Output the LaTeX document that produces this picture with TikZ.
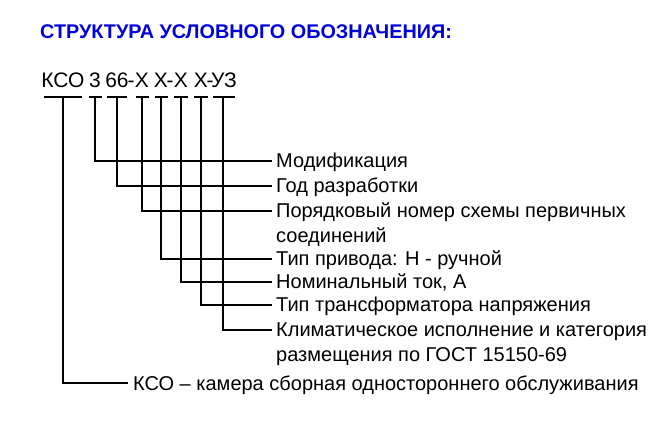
\documentclass[tikz,border=0pt]{standalone}
\usepackage{fontspec}
\setmainfont{Liberation Sans}
\usepackage{tikz}
\usetikzlibrary{positioning}

\tikzset{
  code/.style={anchor=base, inner sep=0pt, font=\fontsize{21}{24}\selectfont},
  lbl/.style={anchor=base west, inner sep=0pt, font=\fontsize{20}{24}\selectfont},
  wire/.style={line width=1.1pt},
}

\begin{document}
\begin{tikzpicture}[x=1pt,y=-1pt]
  \useasboundingbox (0,0) rectangle (669,443);
  \node [anchor=base west, inner sep=0pt, text=blue!85!black,
    font=\fontsize{19.8}{22}\selectfont\bfseries] (title) at (40,39)
    {СТРУКТУРА УСЛОВНОГО ОБОЗНАЧЕНИЯ:};
  % code segments
  \node [code] (kso) at (63,88) {КСО};
  \node [code] (ser) at (95,88) {3};
  \node [code] (vol) at (117,88) {66};
  \node [code] (da) at (131,88) {-};
  \node [code] (pr) at (142,88) {Х};
  \node [code] (cur) at (161,88) {Х};
  \node [code] (db) at (170,88) {-};
  \node [code] (tr) at (181,88) {Х};
  \node [code] (cl) at (201,88) {Х};
  \node [code] (dc) at (210,88) {-};
  \node [code] (uz) at (224,88) {УЗ};
  \foreach \n/\a/\b in {kso/44/82, ser/89/102, vol/107/127, pr/136/149,
                        cur/155/168, tr/174/188, cl/194/208, uz/213/235}
    \draw [wire] (\a,97) -- (\b,97);
  % labels
  \node [lbl] (mod) at (276,168) {Модификация};
  \node [lbl] (year) at (276,193) {Год разработки};
  \node [lbl] (num) at (276,218) {Порядковый номер схемы первичных};
  \node [lbl] (num2) at (276,243) {соединений};
  \node [lbl] (drv) at (276,266) {Тип привода: Н - ручной};
  \node [lbl] (amp) at (276,289) {Номинальный ток, А};
  \node [lbl] (vt) at (276,312) {Тип трансформатора напряжения};
  \node [lbl] (clim) at (276,337) {Климатическое исполнение и категория};
  \node [lbl] (clim2) at (276,361) {размещения по ГОСТ 15150-69};
  \node [lbl] (desc) at (133,390) {КСО -- камера сборная одностороннего обслуживания};
  % connectors
  \foreach \x/\y in {95/161, 117/186, 142/211, 161/259, 181/282, 201/305, 223/330}
    \draw [wire] (\x,97) |- (272,\y);
  \draw [wire] (63,97) |- (128,383);
\end{tikzpicture}
\end{document}
